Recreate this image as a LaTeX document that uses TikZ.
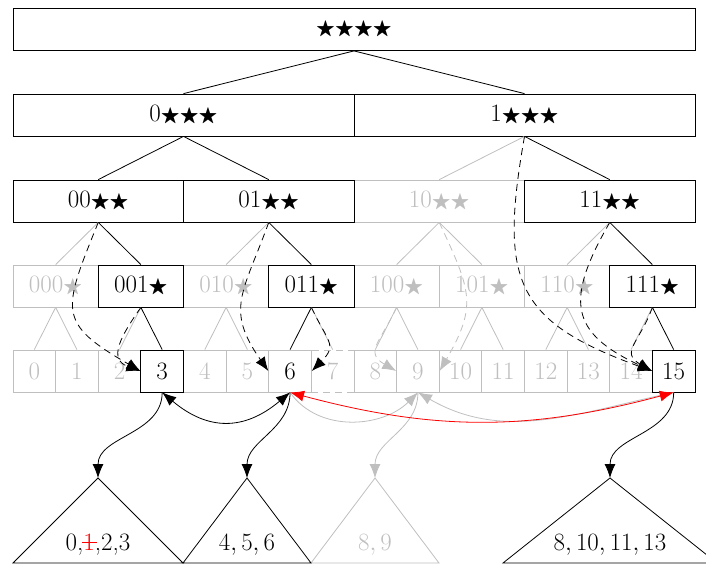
\documentclass[tikz,border=0pt]{standalone}
\usepackage{amssymb}
\usepackage{graphicx}
\usetikzlibrary{arrows.meta}
\newcommand\sst{\scalebox{0.8}{$\bigstar$}}
\newcommand\strikeone{\textcolor{red}{\rlap{\hspace{-0.05em}\rule[0.27em]{0.6em}{1pt}}1}}
\definecolor{lg}{gray}{0.75}
\begin{document}
\begin{tikzpicture}[x=1pt,y=-1pt,line width=0.8pt,
  box/.style={draw,rectangle,inner sep=0pt,minimum height=42pt,font=\fontsize{25}{30}\selectfont},
  gbox/.style={box,draw=lg,text=lg},
  wa/.style={minimum width=682pt},
  wb/.style={minimum width=341pt},
  wc/.style={minimum width=170.5pt},
  wd/.style={minimum width=85.25pt},
  we/.style={minimum width=42.625pt},
  ah/.tip={Latex[length=14pt,width=11pt]},
  tip/.style={-ah},
  darr/.style={tip,dash pattern=on 7pt off 5pt},
  gdarr/.style={darr,draw=lg},
  lbl/.style={anchor=base,font=\fontsize{25}{30}\selectfont},
  ]
\useasboundingbox (0,0) rectangle (706,565);
% triangles
\coordinate (t1) at (98,478);
\coordinate (t2) at (247,478);
\coordinate (t3) at (375,478);
\coordinate (t4) at (610,478);
\draw[lg] (t3) -- (311,563) -- (439,563) -- cycle;
\draw (t1) -- (13,563) -- (183,563) -- cycle;
\draw (t2) -- (183,563) -- (311,563) -- cycle;
\draw (t4) -- (503,563) -- (717,563) -- cycle;
\node[lbl] (s1) at (98,550) {0,\strikeone,2,3};
\node[lbl] (s2) at (247,550) {$4,5,6$};
\node[lbl,text=lg] (s3) at (375,550) {$8,9$};
\node[lbl] (s4) at (610,550) {$8,10,11,13$};
% level 0,1
\node[box,wa] (r) at (354,29.5) {\sst\sst\sst\sst};
\node[box,wb] (n0) at (183.5,115) {0\sst\sst\sst};
\node[box,wb] (n1) at (524.5,115) {1\sst\sst\sst};
% level 2
\node[gbox,wc] (n10) at (439.25,201) {10\sst\sst};
\node[box,wc] (n00) at (98.25,201) {00\sst\sst};
\node[box,wc] (n01) at (268.75,201) {01\sst\sst};
\node[box,wc] (n11) at (609.75,201) {11\sst\sst};
% level 3
\node[gbox,wd] (n000) at (55.625,286) {000\sst};
\node[gbox,wd] (n010) at (226.125,286) {010\sst};
\node[gbox,wd] (n100) at (396.625,286) {100\sst};
\node[gbox,wd] (n101) at (481.875,286) {101\sst};
\node[gbox,wd] (n110) at (567.125,286) {110\sst};
\node[box,wd] (n001) at (140.875,286) {001\sst};
\node[box,wd] (n011) at (311.375,286) {011\sst};
\node[box,wd] (n111) at (652.375,286) {111\sst};
% level 4
\node[gbox,we] (l0) at (34.31,371) {0};
\node[gbox,we] (l1) at (76.94,371) {1};
\node[gbox,we] (l2) at (119.56,371) {2};
\node[gbox,we] (l4) at (204.81,371) {4};
\node[gbox,we] (l5) at (247.44,371) {5};
\node[gbox,we,dash pattern=on 7pt off 5pt] (l7) at (332.69,371) {7};
\node[gbox,we] (l8) at (375.31,371) {8};
\node[gbox,we] (l9) at (417.94,371) {9};
\node[gbox,we] (l10) at (460.56,371) {10};
\node[gbox,we] (l11) at (503.19,371) {11};
\node[gbox,we] (l12) at (545.81,371) {12};
\node[gbox,we] (l13) at (588.44,371) {13};
\node[gbox,we] (l14) at (631.06,371) {14};
\node[gbox,we,text=black] (l6) at (290.06,371) {6};
\node[box,we] (l3) at (162.19,371) {3};
\node[box,we] (l15) at (673.69,371) {15};
% tree edges
\draw (r.south) -- (n0.north);
\draw (r.south) -- (n1.north);
\draw (n0.south) -- (n00.north);
\draw (n0.south) -- (n01.north);
\draw[lg] (n1.south) -- (n10.north);
\draw (n1.south) -- (n11.north);
\draw[lg] (n00.south) -- (n000.north);
\draw (n00.south) -- (n001.north);
\draw[lg] (n01.south) -- (n010.north);
\draw (n01.south) -- (n011.north);
\draw[lg] (n10.south) -- (n100.north);
\draw[lg] (n10.south) -- (n101.north);
\draw[lg] (n11.south) -- (n110.north);
\draw (n11.south) -- (n111.north);
\draw[lg] (n000.south) -- (l0.north);
\draw[lg] (n000.south) -- (l1.north);
\draw[lg] (n001.south) -- (l2.north);
\draw (n001.south) -- (l3.north);
\draw[lg] (n010.south) -- (l4.north);
\draw[lg] (n010.south) -- (l5.north);
\draw (n011.south) -- (l6.north);
\draw[lg] (n011.south) -- (l7.north);
\draw[lg] (n100.south) -- (l8.north);
\draw[lg] (n100.south) -- (l9.north);
\draw[lg] (n101.south) -- (l10.north);
\draw[lg] (n101.south) -- (l11.north);
\draw[lg] (n110.south) -- (l12.north);
\draw[lg] (n110.south) -- (l13.north);
\draw[lg] (n111.south) -- (l14.north);
\draw (n111.south) -- (l15.north);
% gray dashed pointers
\draw[gdarr] (n10.south) to[out=-65,in=60,looseness=1.3] (l9.east);
\draw[gdarr] (n100.south) to[out=-115,in=150,looseness=1.5] (l9.west);
% black dashed pointers
\draw[darr] (n00.south) to[out=-112,in=150,looseness=1.6] (l3.west);
\draw[darr] (n001.south) to[out=-125,in=160,looseness=1.4] (l3.west);
\draw[darr] (n01.south) to[out=-110,in=125,looseness=1.3] (l6.west);
\draw[darr] (n011.south) to[out=-65,in=45,looseness=1.5] (l6.east);
\draw[darr] (n1.south) to[out=-100,in=160,looseness=1.4] (l15.west);
\draw[darr] (n11.south) to[out=-120,in=155,looseness=1.5] (l15.west);
\draw[darr] (n111.south) to[out=-110,in=150,looseness=1.5] (l15.west);
% bottom links
\draw[tip,lg] (l6.south) to[out=-55,in=-135] (l9.south);
\draw[ah-,lg] (l9.south) to[out=-30,in=-168] (l15.south);
\draw[tip,lg] (l9.south) to[out=-90,in=90] (t3);
\draw[tip] (l3.south) to[out=-90,in=90] (t1);
\draw[tip] (l6.south) to[out=-90,in=90] (t2);
\draw[tip] (l15.south) to[out=-90,in=90] (t4);
\draw[ah-ah] (l3.south) to[out=-40,in=-140,looseness=1.2] (l6.south);
\draw[red,ah-ah] (l6.south) to[out=-15,in=-165] (l15.south);
\end{tikzpicture}
\end{document}
